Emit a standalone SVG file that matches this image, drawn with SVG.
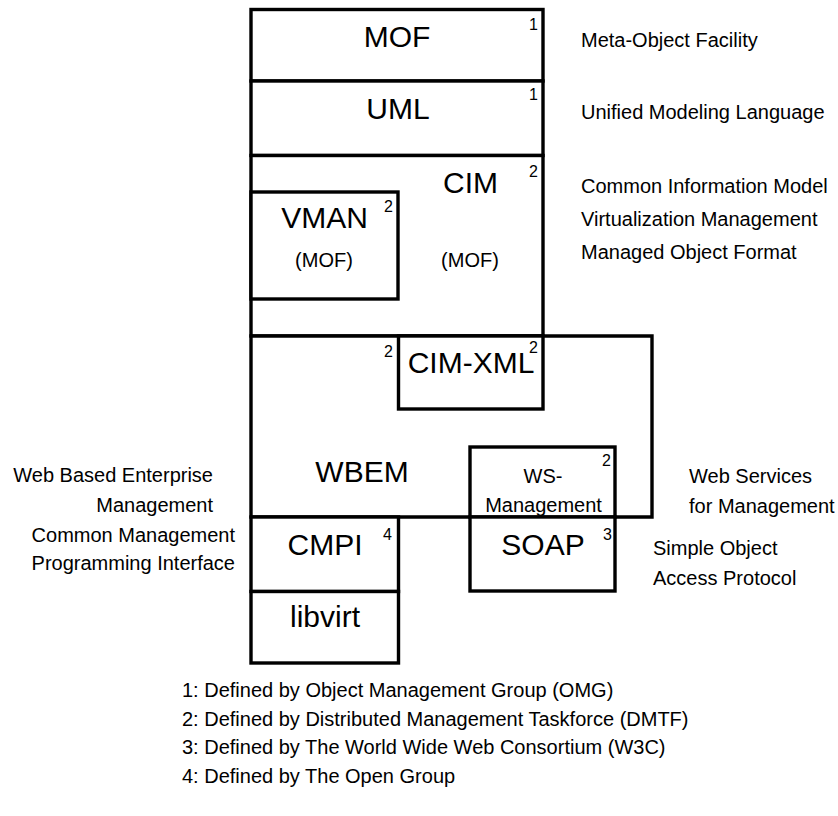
<svg xmlns="http://www.w3.org/2000/svg" width="838" height="816" viewBox="0 0 838 816">
<style>
.box{fill:#fff;stroke:#000;stroke-width:3.4}
text{font-family:"Liberation Sans",Arial,sans-serif;fill:#000}
.big{font-size:30px;text-anchor:middle}
.mid{font-size:20px;text-anchor:middle}
.sup{font-size:16px;text-anchor:end}
.lbl{font-size:20px}
.lblr{font-size:20px;text-anchor:end}
</style>
<rect width="838" height="816" fill="#fff"/>
<g id="MOF">
<rect class="box" x="251" y="9.5" width="292" height="71.5"/>
<text class="big" x="397" y="47">MOF</text>
<text class="sup" x="538" y="30">1</text>
</g>
<g id="UML">
<rect class="box" x="251" y="81" width="292" height="74.5"/>
<text class="big" x="398" y="119">UML</text>
<text class="sup" x="538" y="100">1</text>
</g>
<g id="CIM">
<rect class="box" x="251" y="155.5" width="292" height="180.5"/>
<text class="big" x="470.5" y="193">CIM</text>
<text class="sup" x="538" y="177">2</text>
<text class="mid" x="470" y="267">(MOF)</text>
</g>
<g id="VMAN">
<rect class="box" x="251" y="192" width="147" height="107"/>
<text class="big" x="324.5" y="228">VMAN</text>
<text class="sup" x="393" y="212">2</text>
<text class="mid" x="324" y="267">(MOF)</text>
</g>
<g id="WBEM">
<path class="box" d="M251,336 H652 V517 H251 Z"/>
<text class="big" x="362" y="482">WBEM</text>
</g>
<g id="CIM-XML">
<rect class="box" x="398.5" y="336" width="144.5" height="73"/>
<text class="big" x="471" y="373">CIM-XML</text>
<text class="sup" x="393" y="357">2</text>
<text class="sup" x="538" y="353">2</text>
</g>
<g id="WS-Management">
<rect class="box" x="470" y="447" width="145" height="70"/>
<text class="mid" x="543" y="483">WS-</text>
<text class="mid" x="543.5" y="512">Management</text>
<text class="sup" x="611" y="466">2</text>
</g>
<g id="SOAP">
<rect class="box" x="470" y="517" width="145" height="74"/>
<text class="big" x="543" y="555">SOAP</text>
<text class="sup" x="612" y="540">3</text>
</g>
<g id="CMPI">
<rect class="box" x="251" y="517" width="147.5" height="74.5"/>
<text class="big" x="325" y="555">CMPI</text>
<text class="sup" x="392" y="540">4</text>
</g>
<g id="libvirt">
<rect class="box" x="251" y="591.5" width="147.5" height="71.5"/>
<text class="big" x="325" y="627">libvirt</text>
</g>
<g id="labels">
<text class="lbl" x="581" y="47">Meta-Object Facility</text>
<text class="lbl" x="581" y="119">Unified Modeling Language</text>
<text class="lbl" x="581" y="193">Common Information Model</text>
<text class="lbl" x="581" y="226">Virtualization Management</text>
<text class="lbl" x="581" y="259">Managed Object Format</text>
<text class="lblr" x="213" y="482">Web Based Enterprise</text>
<text class="lblr" x="213" y="512">Management</text>
<text class="lblr" x="235" y="542">Common Management</text>
<text class="lblr" x="235" y="570">Programming Interface</text>
<text class="lbl" x="689" y="483">Web Services</text>
<text class="lbl" x="689" y="513">for Management</text>
<text class="lbl" x="653" y="555">Simple Object</text>
<text class="lbl" x="653" y="585">Access Protocol</text>
</g>
<g id="legend">
<text class="lbl" x="182" y="697">1: Defined by Object Management Group (OMG)</text>
<text class="lbl" x="182" y="726">2: Defined by Distributed Management Taskforce (DMTF)</text>
<text class="lbl" x="182" y="754">3: Defined by The World Wide Web Consortium (W3C)</text>
<text class="lbl" x="182" y="783">4: Defined by The Open Group</text>
</g>
</svg>
